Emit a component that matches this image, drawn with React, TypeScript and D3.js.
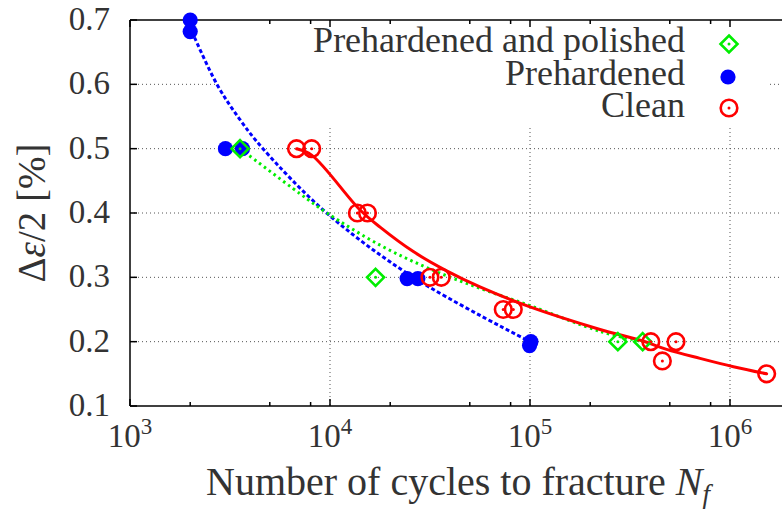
import React from "react";
import * as d3 from "d3";

// ---- data ----
const prehardenedN = [2000, 2000, 3000, 3650, 24300, 27500, 99500, 101000];
const prehardenedE = [0.7, 0.682, 0.5, 0.5, 0.298, 0.298, 0.194, 0.2];

const polishedN = [3550, 16900, 275000, 366000];
const polishedE = [0.5, 0.3, 0.2, 0.2];

const cleanN = [6800, 8100, 13700, 15400, 31600, 36000, 73500, 82500, 402000, 537000, 459000, 1525000];
const cleanE = [0.5, 0.5, 0.4, 0.4, 0.3, 0.3, 0.25, 0.25, 0.2, 0.2, 0.17, 0.15];

// fitted curves
const fitBlueN = [2040, 2720, 3550, 4620, 9620, 26100, 100000];
const fitBlueE = [0.682, 0.6, 0.545, 0.5, 0.4, 0.3, 0.2];

const fitGreenN = [3550, 7080, 9660, 17800, 31600, 56200, 100000, 224000, 366000];
const fitGreenE = [0.5, 0.43, 0.4, 0.35, 0.313, 0.283, 0.256, 0.216, 0.2];

const fitRedN = [6810, 8100, 14100, 17800, 26100, 38300, 56200, 100000, 224000, 367000, 482000, 708000, 1040000, 1525000];
const fitRedE = [0.5, 0.49, 0.405, 0.378, 0.34, 0.31, 0.285, 0.254, 0.219, 0.201, 0.188, 0.174, 0.161, 0.15];

const yTicks = [0.1, 0.2, 0.3, 0.4, 0.5, 0.6, 0.7];
const yTickLabels = ["0.1", "0.2", "0.3", "0.4", "0.5", "0.6", "0.7"];
const xDecades = [3, 4, 5, 6];
const xMinorMultipliers = [2, 5, 8];
const yGrid = [0.2, 0.3, 0.4, 0.5, 0.6];
const xGridDecades = [4, 5, 6];

const legendLabels = ["Prehardened and polished", "Prehardened", "Clean"];

// ---- layout ----
const W = 782;
const H = 509;
const left = 130;
const top = 20;
const bottom = 406;

const x = d3.scaleLog().domain([1e3, 2e6]).range([left, left + 200 * Math.log10(2000)]);
const y = d3.scaleLinear().domain([0.1, 0.7]).range([bottom, top]);

const TXT = "#333";
const ts = { fontFamily: "'Liberation Serif'" };

function pts(ns: number[], es: number[]): [number, number][] {
  return ns.map((n, i) => [x(n), y(es[i])] as [number, number]);
}

const lineGen = d3.line<[number, number]>().curve(d3.curveCatmullRom.alpha(0.5));

function Diamond({ cx, cy }: { cx: number; cy: number }) {
  const s = 8.5;
  return (
    <g>
      <path
        d={`M${cx},${cy - s}L${cx + s},${cy}L${cx},${cy + s}L${cx - s},${cy}Z`}
        fill="none"
        stroke="#00ee00"
        strokeWidth={2.6}
      />
      <circle cx={cx} cy={cy} r={1.5} fill="#00ee00" />
    </g>
  );
}

function RedCircle({ cx, cy }: { cx: number; cy: number }) {
  return (
    <g>
      <circle cx={cx} cy={cy} r={8.3} fill="none" stroke="#ff0000" strokeWidth={2.6} />
      <circle cx={cx} cy={cy} r={1.5} fill="#ff0000" />
    </g>
  );
}

function BlueDot({ cx, cy }: { cx: number; cy: number }) {
  return <circle cx={cx} cy={cy} r={7.6} fill="#0000ff" />;
}

export default function App() {
  const minorTicks: number[] = [];
  xDecades.forEach((d) => {
    xMinorMultipliers.forEach((m) => {
      const v = m * Math.pow(10, d);
      if (v <= 2e6) minorTicks.push(v);
    });
  });
  const xEnd = x(2e6);

  return (
    <svg width={W} height={H} style={{ position: "absolute", left: 0, top: 0, background: "#fff" }}>
      <rect x={0} y={0} width={W} height={H} fill="#fff" />
      {/* grid */}
      <g stroke="#555" strokeWidth={1} strokeDasharray="1,3">
        {yGrid.map((v) => (
          <line key={"gy" + v} x1={left} x2={xEnd} y1={y(v)} y2={y(v)} />
        ))}
        {xGridDecades.map((d) => (
          <line key={"gx" + d} x1={x(Math.pow(10, d))} x2={x(Math.pow(10, d))} y1={top} y2={bottom} />
        ))}
      </g>
      {/* legend background hides the grid */}
      <rect x={217} y={top + 1} width={553} height={107} fill="#fff" />

      {/* frame and ticks */}
      <g stroke="#000" strokeWidth={1.5} fill="none">
        <line x1={left} x2={xEnd} y1={bottom} y2={bottom} />
        <line x1={left} x2={xEnd} y1={top} y2={top} />
        <line x1={left} x2={left} y1={top} y2={bottom} />
        {xDecades.map((d) => (
          <g key={"mt" + d}>
            <line x1={x(Math.pow(10, d))} x2={x(Math.pow(10, d))} y1={bottom} y2={bottom - 7} />
            <line x1={x(Math.pow(10, d))} x2={x(Math.pow(10, d))} y1={top} y2={top + 7} />
          </g>
        ))}
        {minorTicks.map((v) => (
          <g key={"mn" + v}>
            <line x1={x(v)} x2={x(v)} y1={bottom} y2={bottom - 4} />
            <line x1={x(v)} x2={x(v)} y1={top} y2={top + 4} />
          </g>
        ))}
        {yTicks.map((v) => (
          <line key={"yt" + v} x1={left} x2={left + 7} y1={y(v)} y2={y(v)} />
        ))}
      </g>

      {/* tick labels */}
      {yTicks.map((v, i) => (
        <text key={"yl" + v} x={110} y={y(v) + 10} textAnchor="end" fontSize={33} fill={TXT} style={ts}>
          {yTickLabels[i]}
        </text>
      ))}
      {xDecades.map((d) => (
        <text key={"xl" + d} x={x(Math.pow(10, d))} y={447} textAnchor="middle" fontSize={33} fill={TXT} style={ts}>
          10
          <tspan fontSize={23} dy={-13}>
            {String(d)}
          </tspan>
        </text>
      ))}

      {/* axis titles */}
      <text x={458} y={495} textAnchor="middle" fontSize={40} fill={TXT} style={ts}>
        Number of cycles to fracture{" "}
        <tspan fontStyle="italic">N</tspan>
        <tspan fontStyle="italic" fontSize={27} dy={8}>
          f
        </tspan>
      </text>
      <text
        transform={`translate(45, ${(top + bottom) / 2}) rotate(-90)`}
        textAnchor="middle"
        fontSize={39}
        fill={TXT}
        style={ts}
      >
        Δ<tspan fontStyle="italic">ε</tspan>/2 [%]
      </text>

      {/* fits */}
      <path d={lineGen(pts(fitBlueN, fitBlueE)) || ""} fill="none" stroke="#0000ff" strokeWidth={3} strokeDasharray="4,2.5" />
      <path d={lineGen(pts(fitGreenN, fitGreenE)) || ""} fill="none" stroke="#00ee00" strokeWidth={3} strokeDasharray="2.5,3.5" />
      <path d={lineGen(pts(fitRedN, fitRedE)) || ""} fill="none" stroke="#ff0000" strokeWidth={3} />

      {/* points */}
      {prehardenedN.map((n, i) => (
        <BlueDot key={"b" + i} cx={x(n)} cy={y(prehardenedE[i])} />
      ))}
      {polishedN.map((n, i) => (
        <Diamond key={"g" + i} cx={x(n)} cy={y(polishedE[i])} />
      ))}
      {cleanN.map((n, i) => (
        <RedCircle key={"r" + i} cx={x(n)} cy={y(cleanE[i])} />
      ))}

      {/* legend */}
      {legendLabels.map((l, i) => (
        <text key={l} x={685} y={52 + i * 32.5} textAnchor="end" fontSize={36} fill={TXT} style={ts}>
          {l}
        </text>
      ))}
      <Diamond cx={729} cy={44} />
      <BlueDot cx={728} cy={77} />
      <RedCircle cx={729} cy={108} />
    </svg>
  );
}
